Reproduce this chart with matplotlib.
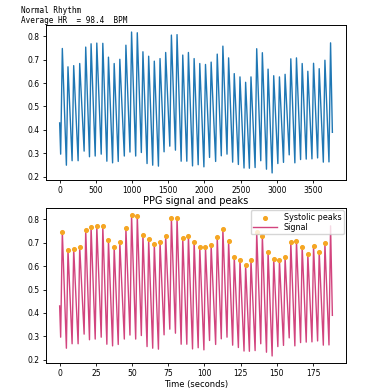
#!/usr/bin/env python3
import matplotlib.pyplot as plt
import numpy as np

fs = 20  # samples per second

# beat-to-beat landmarks (sample index, amplitude)
start_val = 0.43
end_idx = 3766
end_val = 0.39

peak_idx = [37, 115, 194, 277, 360, 434, 513, 596, 674, 753, 831, 915,
            993, 1072, 1150, 1229, 1307, 1386, 1464, 1543, 1621, 1700, 1778, 1857,
            1935, 2014, 2092, 2176, 2254, 2333, 2411, 2490, 2568, 2642, 2721, 2799,
            2878, 2956, 3035, 3113, 3192, 3270, 3349, 3427, 3506, 3584, 3663, 3741]
peak_val = [0.747, 0.669, 0.674, 0.683, 0.753, 0.767, 0.770, 0.769, 0.710, 0.683, 0.701, 0.761,
            0.817, 0.814, 0.733, 0.714, 0.693, 0.704, 0.730, 0.804, 0.806, 0.719, 0.730, 0.704,
            0.683, 0.679, 0.689, 0.723, 0.757, 0.707, 0.640, 0.626, 0.603, 0.626, 0.746, 0.729,
            0.659, 0.631, 0.626, 0.637, 0.703, 0.707, 0.683, 0.650, 0.684, 0.661, 0.697, 0.771]

trough_idx = [14, 93, 172, 255, 338, 412, 491, 574, 652, 731, 809, 893,
              971, 1050, 1128, 1207, 1285, 1364, 1442, 1521, 1599, 1678, 1756, 1835,
              1913, 1992, 2070, 2154, 2232, 2311, 2389, 2468, 2546, 2620, 2699, 2777,
              2856, 2934, 3013, 3091, 3170, 3248, 3327, 3405, 3484, 3562, 3641, 3719]
trough_val = [0.297, 0.250, 0.269, 0.269, 0.310, 0.286, 0.289, 0.297, 0.267, 0.260, 0.266, 0.289,
              0.306, 0.289, 0.304, 0.257, 0.250, 0.246, 0.307, 0.331, 0.314, 0.267, 0.267, 0.247,
              0.252, 0.243, 0.283, 0.266, 0.290, 0.297, 0.263, 0.253, 0.238, 0.237, 0.240, 0.269,
              0.233, 0.217, 0.257, 0.262, 0.294, 0.260, 0.274, 0.276, 0.277, 0.281, 0.263, 0.264]

# systolic peaks that the detector marked (the last one at the edge is not marked)
n_marked = 47

# signal vertices: start, then trough/peak pairs, then end
ar_x = [0]
ar_y = [start_val]
for ti, tv, pi, pv in zip(trough_idx, trough_val, peak_idx, peak_val):
    ar_x += [ti, pi]
    ar_y += [tv, pv]
ar_x += [end_idx]
ar_y += [end_val]
ar_x = np.array(ar_x)
ar_y = np.array(ar_y)

plt.rcParams["font.size"] = 5.5

fig = plt.figure(figsize=(3.75, 3.9), dpi=100)
fig.text(0.056, 0.985, "Normal Rhythm\nAverage HR  = 98.4  BPM",
         family="DejaVu Sans Mono", fontsize=5.5, va="top", ha="left")

ax1 = fig.add_axes([0.1227, 0.5385, 0.8, 0.3974])
ax1.plot(ar_x, ar_y, color="#1f77b4", lw=1.0)
ax1.set_xticks([0, 500, 1000, 1500, 2000, 2500, 3000, 3500])

ax2 = fig.add_axes([0.1227, 0.0692, 0.8, 0.3974])
ax2.scatter(np.array(peak_idx[:n_marked]) / fs, peak_val[:n_marked],
            color="#f5a623", s=7, zorder=3, label="Systolic peaks")
ax2.plot(ar_x / fs, ar_y, color="#d2447e", lw=1.0, label="Signal")
ax2.set_xticks([0, 25, 50, 75, 100, 125, 150, 175])
ax2.set_title("PPG signal and peaks", fontsize=7, pad=3)
ax2.set_xlabel("Time (seconds)", fontsize=6, labelpad=1)
ax2.legend(loc="upper right", fontsize=5.8, handlelength=3, borderpad=0.3,
           labelspacing=0.15, borderaxespad=0.3)

for ax in (ax1, ax2):
    ax.set_yticks([0.2, 0.3, 0.4, 0.5, 0.6, 0.7, 0.8])
    ax.tick_params(length=2.5, width=0.6, pad=2)
    for s in ax.spines.values():
        s.set_linewidth(0.7)

plt.savefig("out.png", dpi=100)
